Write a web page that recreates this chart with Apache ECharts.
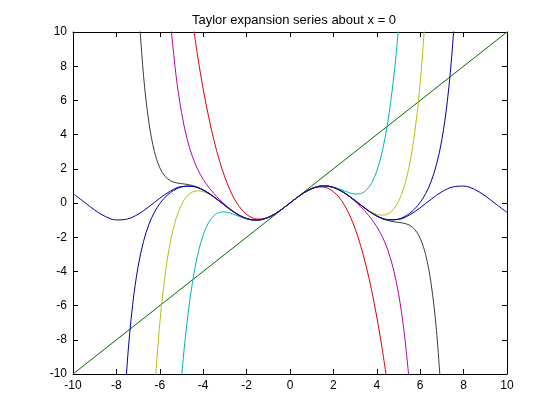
<!DOCTYPE html>
<html>
<head>
<meta charset="utf-8">
<script src="https://cdn.jsdelivr.net/npm/echarts@6/dist/echarts.min.js"></script>
<style>html,body{margin:0;padding:0;background:#fff}#c{width:560px;height:420px}</style>
</head>
<body>
<div id="c"></div>
<script>
const titleText = 'Taylor expansion series about x = 0';
const ticks = [-10,-8,-6,-4,-2,0,2,4,6,8,10];

const xSin = [-10,-9.5,-9,-8.5,-8,-7.5,-7,-6.5,-6,-5.5,-5,-4.5,-4,-3.5,-3,-2.5,-2,-1.5,-1,-0.5,0,0.5,1,1.5,2,2.5,3,3.5,4,4.5,5,5.5,6,6.5,7,7.5,8,8.5,9,9.5,10];
const ySin = [0.5440,0.0752,-0.4121,-0.7985,-0.9894,-0.9380,-0.6570,-0.2151,0.2794,0.7055,0.9589,0.9775,0.7568,0.3508,-0.1411,-0.5985,-0.9093,-0.9975,-0.8415,-0.4794,0,0.4794,0.8415,0.9975,0.9093,0.5985,0.1411,-0.3508,-0.7568,-0.9775,-0.9589,-0.7055,-0.2794,0.2151,0.6570,0.9380,0.9894,0.7985,0.4121,-0.0752,-0.5440];

const xLine = [-10, 10];
const yLine = [-10, 10];

const xq = [-7.75,-7.5,-7.25,-7,-6.75,-6.5,-6.25,-6,-5.75,-5.5,-5.25,-5,-4.75,-4.5,-4.25,-4,-3.75,-3.5,-3.25,-3,-2.75,-2.5,-2.25,-2,-1.75,-1.5,-1.25,-1,-0.75,-0.5,-0.25,0,0.25,0.5,0.75,1,1.25,1.5,1.75,2,2.25,2.5,2.75,3,3.25,3.5,3.75,4,4.25,4.5,4.75,5,5.25,5.5,5.75,6,6.25,6.5,6.75,7,7.25,7.5,7.75];

const yT3 = [null,null,null,null,null,null,null,null,null,null,null,null,null,
 10.6875,8.5443,6.6667,5.0391,3.6458,2.4714,1.5,0.7161,0.1042,-0.3516,-0.6667,-0.8568,-0.9375,-0.9245,-0.8333,-0.6797,-0.4792,-0.2474,
 0,
 0.2474,0.4792,0.6797,0.8333,0.9245,0.9375,0.8568,0.6667,0.3516,-0.1042,-0.7161,-1.5,-2.4714,-3.6458,-5.0391,-6.6667,-8.5443,-10.6875,
 null,null,null,null,null,null,null,null,null,null,null,null,null];

const yT5 = [null,null,null,null,null,null,null,null,null,null,
 -14.369,-10.2083,-7.0385,-4.6899,-3.0106,-1.8667,-1.1407,-0.7310,-0.5502,-0.525,-0.5945,-0.7096,-0.8321,-0.9333,-0.9936,-1.0008,-0.9499,-0.8417,-0.6817,-0.4794,-0.2474,
 0,
 0.2474,0.4794,0.6817,0.8417,0.9499,1.0008,0.9936,0.9333,0.8321,0.7096,0.5945,0.525,0.5502,0.7310,1.1407,1.8667,3.0106,4.6899,7.0385,10.2083,14.369,
 null,null,null,null,null,null,null,null,null,null];

const yT7 = [null,null,null,null,null,null,null,null,null,
 10.4959,7.4425,5.2927,3.7864,2.7242,1.9587,1.3841,0.9285,0.5456,0.2097,-0.0911,-0.3585,-0.5885,-0.7742,-0.9079,-0.9836,-0.9974,-0.9490,-0.8415,-0.6816,-0.4794,-0.2474,
 0,
 0.2474,0.4794,0.6816,0.8415,0.9490,0.9974,0.9836,0.9079,0.7742,0.5885,0.3585,0.0911,-0.2097,-0.5456,-0.9285,-1.3841,-1.9587,-2.7242,-3.7864,-5.2927,-7.4425,-10.4959,
 null,null,null,null,null,null,null,null,null];

const yT9 = [null,null,null,null,null,null,
 -11.2194,-7.0285,-4.1455,-2.1953,-0.9072,-0.0896,0.3942,0.6390,0.7121,0.6617,0.5244,0.3284,0.0982,-0.1453,-0.3833,-0.5990,-0.7783,-0.9093,-0.9840,-0.9975,-0.9490,-0.8415,-0.6816,-0.4794,-0.2474,
 0,
 0.2474,0.4794,0.6816,0.8415,0.9490,0.9975,0.9840,0.9093,0.7783,0.5990,0.3833,0.1453,-0.0982,-0.3284,-0.5244,-0.6617,-0.7121,-0.6390,-0.3942,0.0896,0.9072,2.1953,4.1455,7.0285,11.2194,
 null,null,null,null,null,null];

const yT11 = [null,null,null,
 11.8423,7.4537,4.6924,3.0211,2.0603,1.5455,1.2948,1.1850,1.1336,1.0900,1.0229,0.9168,0.7668,0.5761,0.3526,0.1089,-0.1409,-0.3816,-0.5984,-0.7781,-0.9093,-0.9840,-0.9975,-0.9490,-0.8415,-0.6816,-0.4794,-0.2474,
 0,
 0.2474,0.4794,0.6816,0.8415,0.9490,0.9975,0.9840,0.9093,0.7781,0.5984,0.3816,0.1409,-0.1089,-0.3526,-0.5761,-0.7668,-0.9168,-1.0229,-1.0900,-1.1336,-1.1850,-1.2948,-1.5455,-2.0603,-3.0211,-4.6924,-7.4537,-11.8423,
 null,null,null];

const yT13 = [
 -14.582,-9.3494,-5.9425,-3.7172,-2.2440,-1.2450,-0.5447,-0.0371,0.3394,0.6180,0.8153,0.9376,0.9894,0.9731,0.8931,0.7560,0.5714,0.3507,0.1082,-0.1411,-0.3817,-0.5985,-0.7781,-0.9093,-0.9840,-0.9975,-0.9490,-0.8415,-0.6816,-0.4794,-0.2474,
 0,
 0.2474,0.4794,0.6816,0.8415,0.9490,0.9975,0.9840,0.9093,0.7781,0.5985,0.3817,0.1411,-0.1082,-0.3507,-0.5714,-0.7560,-0.8931,-0.9731,-0.9894,-0.9376,-0.8153,-0.6180,-0.3394,0.0371,0.5447,1.2450,2.2440,3.7172,5.9425,9.3494,14.582];

function pairs(xs, ys) { return xs.map((x, i) => [x, ys[i] === null ? '-' : ys[i]]); }

const seriesDefs = [
  { name: 'sin', x: xSin, y: ySin, color: '#0000a8' },
  { name: 'T1', x: xLine, y: yLine, color: '#006a00' },
  { name: 'T3', x: xq, y: yT3, color: '#e00000' },
  { name: 'T5', x: xq, y: yT5, color: '#00b4b4' },
  { name: 'T7', x: xq, y: yT7, color: '#b400b4' },
  { name: 'T9', x: xq, y: yT9, color: '#bcbc10' },
  { name: 'T11', x: xq, y: yT11, color: '#3a3a3a' },
  { name: 'T13', x: xq, y: yT13, color: '#0000a8' }
];

const font = 'Liberation Sans, Arial, sans-serif';
function axisCommon(pos, showLabel) {
  return {
    type: 'value', min: -10, max: 10, interval: 2, position: pos,
    axisLine: { show: true, onZero: false, lineStyle: { color: '#000', width: 1 } },
    axisTick: { show: true, inside: true, length: 5, lineStyle: { color: '#000' } },
    axisLabel: { show: showLabel, color: '#000', fontSize: 12, fontFamily: font, margin: 6,
      formatter: v => ticks.includes(v) ? String(v) : '' },
    splitLine: { show: false }
  };
}

const chart = echarts.init(document.getElementById('c'));
chart.setOption({
  animation: false,
  backgroundColor: '#fff',
  title: { text: titleText, left: 289, top: 9, textAlign: 'center',
    textStyle: { fontSize: 13, fontWeight: 'normal', color: '#000', fontFamily: font } },
  grid: { left: 73, right: 53, top: 32, bottom: 46, containLabel: false },
  xAxis: [axisCommon('bottom', true), axisCommon('top', false)],
  yAxis: [axisCommon('left', true), axisCommon('right', false)],
  series: seriesDefs.map(s => ({
    name: s.name, type: 'line', xAxisIndex: 0, yAxisIndex: 0,
    data: pairs(s.x, s.y), showSymbol: false, symbol: 'none', smooth: s.name === 'T1' ? false : 0.35,
    clip: true, connectNulls: false,
    lineStyle: { color: s.color, width: 1 }, itemStyle: { color: s.color }
  }))
});
</script>
</body>
</html>
